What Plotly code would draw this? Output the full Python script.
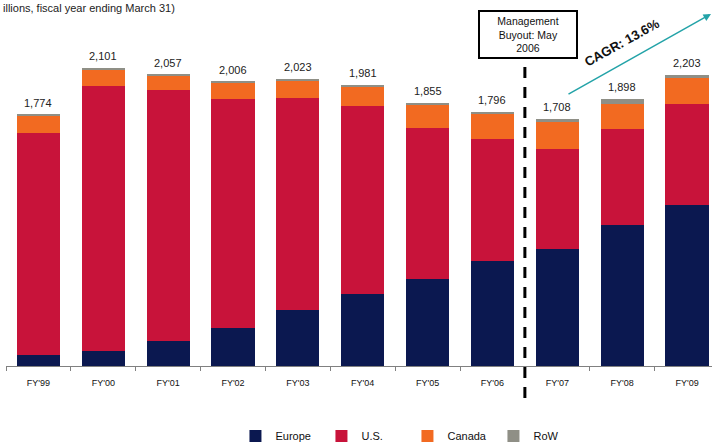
import plotly.graph_objects as go

categories = ["FY'99", "FY'00", "FY'01", "FY'02", "FY'03", "FY'04", "FY'05", "FY'06", "FY'07", "FY'08", "FY'09"]
europe = [76, 109, 173, 270, 394, 505, 613, 740, 827, 992, 1135]
us = [1570, 1866, 1774, 1614, 1497, 1329, 1064, 861, 706, 678, 716]
canada = [124, 120, 104, 116, 127, 141, 172, 185, 188, 181, 184]
row = [4, 6, 6, 6, 5, 6, 6, 10, 26, 35, 21]
total_labels = ["1,774", "2,101", "2,057", "2,006", "2,023", "1,981", "1,855", "1,796", "1,708", "1,898", "2,203"]

FONT = "Liberation Sans, Arial, sans-serif"
series = [
    ("Europe", europe, "#0b1850"),
    ("U.S.", us, "#c8133a"),
    ("Canada", canada, "#f26a21"),
    ("RoW", row, "#8f8f86"),
]

fig = go.Figure()
for name, vals, col in series:
    fig.add_trace(go.Bar(x=categories, y=vals, name=name, marker=dict(color=col, line=dict(width=0))))

stack_tops = [a + b + c + d for a, b, c, d in zip(europe, us, canada, row)]
for cat, top, lab in zip(categories, stack_tops, total_labels):
    fig.add_annotation(x=cat, y=top, text=lab, showarrow=False, yanchor="bottom", yshift=4,
                       font=dict(family=FONT, size=11, color="#222"))

x_lo, x_hi = -0.5, 10.385
split = 7.5
xp = (split - x_lo) / (x_hi - x_lo)

fig.add_shape(type="line", xref="paper", yref="paper", x0=xp, x1=xp, y0=-0.095, y1=0.899,
              line=dict(color="black", width=3, dash="11px,9px"))

fig.add_annotation(xref="paper", yref="paper", x=0.7387, y=0.9866, text="Management<br>Buyout: May<br>2006",
                   showarrow=False, xanchor="center", yanchor="middle", width=96, height=45,
                   bgcolor="white", bordercolor="black", borderwidth=2, borderpad=0,
                   font=dict(family=FONT, size=10.5, color="#111"))

fig.add_annotation(xref="paper", yref="paper", x=1.0, y=1.0476, ax=-145, ay=81, text="",
                   showarrow=True, arrowhead=2, arrowsize=1, arrowwidth=1.5, arrowcolor="#23a3a8")

fig.add_annotation(xref="paper", yref="paper", x=0.8725, y=0.964, text="<b>CAGR: 13.6%</b>",
                   showarrow=False, textangle=-29, xanchor="center", yanchor="middle",
                   font=dict(family=FONT, size=13, color="#111"))

fig.add_annotation(xref="paper", yref="paper", x=0, xshift=-5, y=1.0655, xanchor="left", yanchor="middle",
                   text="illions, fiscal year ending March 31)", showarrow=False,
                   font=dict(family=FONT, size=11, color="#222"))

fig.update_layout(
    width=712, height=446,
    margin=dict(l=6, r=0, t=30, b=80),
    barmode="stack", bargap=0.335,
    plot_bgcolor="white", paper_bgcolor="white",
    showlegend=True,
    legend=dict(orientation="h", xref="paper", yref="container", x=0.325, y=0.0224,
                xanchor="left", yanchor="middle", entrywidth=41, entrywidthmode="pixels",
                font=dict(family=FONT, size=11, color="#111"), traceorder="normal"),
    xaxis=dict(range=[x_lo, x_hi], showline=True, linecolor="#808080", linewidth=1,
               ticks="outside", tickson="boundaries", ticklen=4, tickcolor="#808080",
               tickfont=dict(family=FONT, size=9, color="#111"), ticklabelstandoff=8,
               showgrid=False, zeroline=False, automargin=False),
    yaxis=dict(range=[0, 2372], visible=False, showgrid=False, zeroline=False),
)

fig.write_html("out.html")
